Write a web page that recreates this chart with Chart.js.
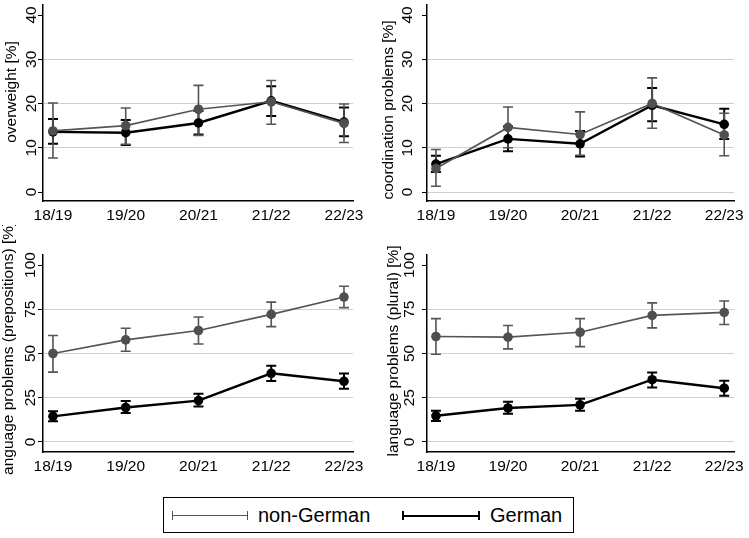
<!DOCTYPE html>
<html><head><meta charset="utf-8">
<script src="https://cdn.jsdelivr.net/npm/chart.js@4/dist/chart.umd.min.js"></script>
<style>
html,body{margin:0;padding:0;background:#fff;}
body{width:749px;height:538px;position:relative;overflow:hidden;font-family:"Liberation Sans",Arial,sans-serif;}
.p{position:absolute;}
#legend{position:absolute;left:163px;top:497px;width:409px;height:34px;border:1.5px solid #000;background:#fff;}
.sample{position:absolute;top:17px;height:0;}
.sample .ln{position:absolute;left:0;right:0;top:0;}
.sample .cap{position:absolute;top:-4px;height:9px;}
.ltxt{position:absolute;top:0;line-height:35px;font-size:20px;color:#000;}
</style></head>
<body>
<canvas id="c1" class="p" style="left:0;top:0" width="375" height="225"></canvas>
<canvas id="c2" class="p" style="left:375px;top:0" width="374" height="225"></canvas>
<canvas id="c3" class="p" style="left:0;top:225px" width="375" height="250"></canvas>
<canvas id="c4" class="p" style="left:375px;top:225px" width="374" height="250"></canvas>
<div id="legend">
  <div class="sample" style="left:8px;width:76px">
    <div class="ln" style="border-top:1.6px solid #555;"></div>
    <div class="cap" style="left:0;border-left:1.6px solid #555;"></div>
    <div class="cap" style="right:0;border-left:1.6px solid #555;"></div>
  </div>
  <div class="ltxt" style="left:94px">non-German</div>
  <div class="sample" style="left:238px;width:78px">
    <div class="ln" style="border-top:2.4px solid #000;top:-0.5px"></div>
    <div class="cap" style="left:0;border-left:2px solid #000;"></div>
    <div class="cap" style="right:0;border-left:2px solid #000;"></div>
  </div>
  <div class="ltxt" style="left:326px">German</div>
</div>
<script>
const seasons = ['18/19','19/20','20/21','21/22','22/23'];
const seriesNames = ['non-German','German'];
const ticks40 = [0,10,20,30,40];
const ticks100 = [0,25,50,75,100];

const overweightNonGerman   = [13.8, 15.0, 18.7, 20.4, 15.5];
const overweightNonGermanLo = [7.7, 10.8, 12.8, 15.3, 11.2];
const overweightNonGermanHi = [20.1, 19.0, 24.1, 25.2, 19.9];
const overweightGerman      = [13.6, 13.4, 15.6, 20.6, 15.8];
const overweightGermanLo    = [10.9, 10.6, 13.0, 17.2, 12.6];
const overweightGermanHi    = [16.5, 16.3, 18.3, 23.9, 19.1];

const coordNonGerman   = [5.3, 14.6, 13.0, 20.0, 12.9];
const coordNonGermanLo = [1.3, 10.0, 8.3, 14.4, 8.2];
const coordNonGermanHi = [9.6, 19.2, 18.1, 25.8, 17.8];
const coordGerman      = [6.3, 12.0, 10.9, 19.6, 15.3];
const coordGermanLo    = [4.5, 9.2, 8.0, 16.0, 12.0];
const coordGermanHi    = [8.2, 14.8, 13.8, 23.5, 18.8];

const prepNonGerman   = [50.0, 57.7, 63.0, 72.1, 81.9];
const prepNonGermanLo = [39.5, 51.3, 55.4, 65.2, 75.9];
const prepNonGermanHi = [60.2, 64.3, 70.6, 79.0, 88.0];
const prepGerman      = [14.5, 19.5, 23.4, 38.8, 34.3];
const prepGermanLo    = [11.7, 16.4, 20.1, 34.4, 30.1];
const prepGermanHi    = [17.4, 23.2, 27.2, 43.1, 38.7];

const pluralNonGerman   = [59.6, 59.2, 62.0, 71.5, 73.2];
const pluralNonGermanLo = [49.6, 52.6, 53.9, 64.5, 66.4];
const pluralNonGermanHi = [69.7, 65.8, 69.7, 78.6, 79.7];
const pluralGerman      = [14.8, 19.2, 21.0, 35.2, 30.4];
const pluralGermanLo    = [11.9, 16.0, 17.6, 30.8, 26.2];
const pluralGermanHi    = [17.7, 22.7, 24.4, 39.3, 34.6];

const GRAY = '#555555';
const BLACK = '#000000';
const FONT = '"Liberation Sans", Arial, sans-serif';

const errorBars = {
  id: 'errorBars',
  beforeDatasetsDraw(chart) {
    const ctx = chart.ctx;
    const xs = chart.scales.x, ys = chart.scales.y;
    for (let d = chart.data.datasets.length - 1; d >= 0; d--) {
      const ds = chart.data.datasets[d];
      ctx.save();
      ctx.strokeStyle = ds.borderColor;
      ctx.lineWidth = ds.errWidth;
      for (let i = 0; i < ds.data.length; i++) {
        const x = xs.getPixelForValue(ds.data[i].x);
        const y1 = ys.getPixelForValue(ds.lo[i]);
        const y2 = ys.getPixelForValue(ds.hi[i]);
        const c = 5;
        ctx.beginPath();
        ctx.moveTo(x, y1); ctx.lineTo(x, y2);
        ctx.moveTo(x - c, y1); ctx.lineTo(x + c, y1);
        ctx.moveTo(x - c, y2); ctx.lineTo(x + c, y2);
        ctx.stroke();
      }
      ctx.restore();
    }
  }
};

const yLabels = {
  id: 'yLabels',
  afterDraw(chart, args, opts) {
    const ctx = chart.ctx;
    const ys = chart.scales.y;
    ctx.save();
    ctx.fillStyle = '#000';
    ctx.textAlign = 'center';
    ctx.textBaseline = 'middle';
    ctx.font = '15.5px ' + FONT;
    for (const v of opts.ticks) {
      const y = ys.getPixelForValue(v);
      ctx.save();
      ctx.translate(opts.tickX, y);
      ctx.rotate(-Math.PI / 2);
      ctx.fillText(String(v), 0, 0);
      ctx.restore();
    }
    ctx.font = '15.5px ' + FONT;
    ctx.translate(opts.titleX, opts.titleY);
    ctx.rotate(-Math.PI / 2);
    ctx.fillText(opts.title, 0, 0);
    ctx.restore();
  }
};

function makePanel(id, p) {
  const mk = (vals) => vals.map((v, i) => ({x: i, y: v}));
  new Chart(document.getElementById(id), {
    type: 'line',
    data: {
      datasets: [
        {label: seriesNames[0], data: mk(p.ng), lo: p.ngLo, hi: p.ngHi,
         borderColor: GRAY, backgroundColor: GRAY, borderWidth: 1.7, errWidth: 1.6,
         pointRadius: 4.8, pointBorderWidth: 0, pointBackgroundColor: '#4f4f4f', tension: 0},
        {label: seriesNames[1], data: mk(p.g), lo: p.gLo, hi: p.gHi,
         borderColor: BLACK, backgroundColor: BLACK, borderWidth: 2.4, errWidth: 2,
         pointRadius: 4.8, pointBorderWidth: 0, pointBackgroundColor: BLACK, tension: 0}
      ]
    },
    options: {
      responsive: false, animation: false, devicePixelRatio: 1,
      layout: {padding: {top: p.padTop, right: p.padRight, left: 0, bottom: 0}},
      plugins: {legend: {display: false}, tooltip: {enabled: false},
        yLabels: {ticks: p.ticks, tickX: p.tickX, titleX: p.titleX, titleY: p.titleY, title: p.title}},
      scales: {
        x: {type: 'linear', min: p.xMin, max: p.xMax,
            afterBuildTicks: s => { s.ticks = seasons.map((_, i) => ({value: i})); },
            afterFit: s => { s.height = p.xHeight; },
            ticks: {callback: v => seasons[v], color: '#000', font: {size: 15.5, family: FONT},
                    padding: 5, maxRotation: 0, minRotation: 0, autoSkip: false},
            grid: {display: true, drawOnChartArea: false, drawTicks: false},
            border: {display: true, color: '#000', width: 1.5}},
        y: {type: 'linear', min: p.yMin, max: p.yMax,
            afterBuildTicks: s => { s.ticks = p.ticks.map(v => ({value: v})); },
            afterFit: s => { s.width = p.yWidth; },
            ticks: {display: false},
            grid: {drawTicks: true, tickLength: 5, tickColor: '#000', lineWidth: 1,
                   color: c => {
                     const v = c.tick ? c.tick.value : null;
                     if (v === p.ticks[p.ticks.length - 1]) return 'rgba(0,0,0,0)';
                     if (v === 0 && !p.zeroGrid) return 'rgba(0,0,0,0)';
                     return '#cfcfcf';
                   }},
            border: {display: true, color: '#000', width: 1.5}}
      }
    },
    plugins: [errorBars, yLabels]
  });
}

const top40 = {yMin: -2.03, yMax: 42.26, ticks: ticks40, padTop: 5, xHeight: 24};
const bot100 = {yMin: -5.65, yMax: 105.65, ticks: ticks100, padTop: 30, xHeight: 23};
const leftX = {xMin: -0.137, xMax: 4.124, yWidth: 43, padRight: 22};
const rightX = {xMin: -0.124, xMax: 4.137, yWidth: 52, padRight: 12};

makePanel('c1', Object.assign({}, top40, leftX, {
  ng: overweightNonGerman, ngLo: overweightNonGermanLo, ngHi: overweightNonGermanHi,
  g: overweightGerman, gLo: overweightGermanLo, gHi: overweightGermanHi,
  title: 'overweight [%]', titleX: 12, titleY: 92, tickX: 32, zeroGrid: false}));
makePanel('c2', Object.assign({}, top40, rightX, {
  ng: coordNonGerman, ngLo: coordNonGermanLo, ngHi: coordNonGermanHi,
  g: coordGerman, gLo: coordGermanLo, gHi: coordGermanHi,
  title: 'coordination problems [%]', titleX: 14, titleY: 110, tickX: 33, zeroGrid: true}));
makePanel('c3', Object.assign({}, bot100, leftX, {
  ng: prepNonGerman, ngLo: prepNonGermanLo, ngHi: prepNonGermanHi,
  g: prepGerman, gLo: prepGermanLo, gHi: prepGermanHi,
  title: 'language problems (prepositions) [%]', titleX: 9, titleY: 125, tickX: 31, zeroGrid: true}));
makePanel('c4', Object.assign({}, bot100, rightX, {
  ng: pluralNonGerman, ngLo: pluralNonGermanLo, ngHi: pluralNonGermanHi,
  g: pluralGerman, gLo: pluralGermanLo, gHi: pluralGermanHi,
  title: 'language problems (plural) [%]', titleX: 19, titleY: 126, tickX: 35, zeroGrid: true}));
</script>
</body></html>
